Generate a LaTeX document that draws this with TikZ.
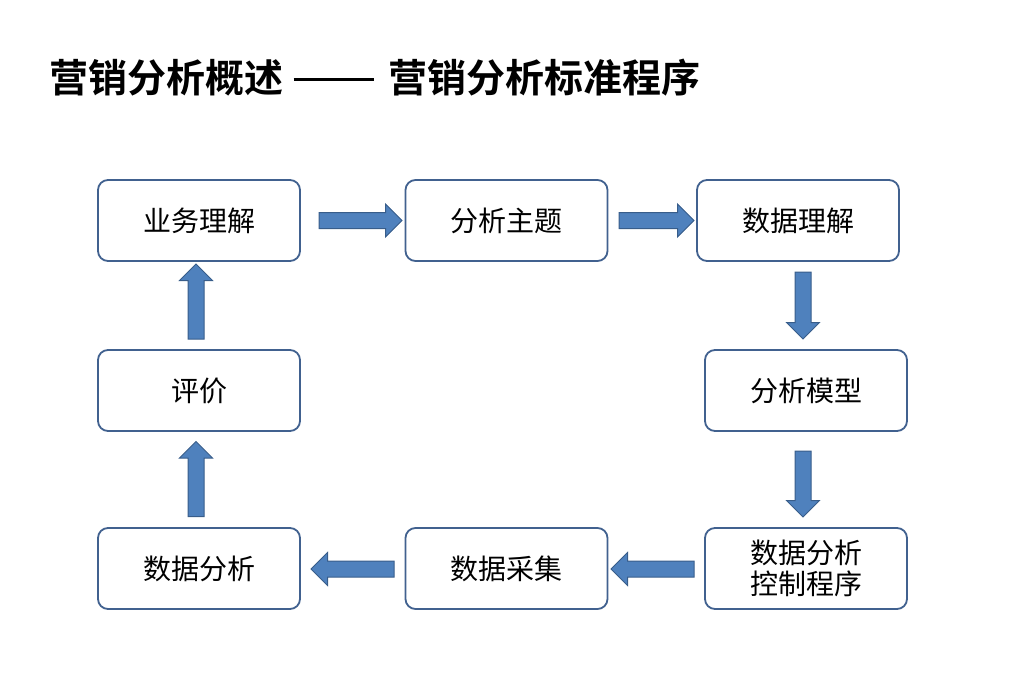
\documentclass[tikz,border=0pt]{standalone}
\usepackage{fontspec}
\setmainfont{Noto Sans CJK SC}
\newfontfamily\titlefont{Noto Sans CJK SC Bold}
\usetikzlibrary{shapes.arrows}
\definecolor{boxc}{HTML}{41618F}
\definecolor{arrf}{HTML}{4F81BD}
\definecolor{arrd}{HTML}{385D8A}
\begin{document}
\begin{tikzpicture}[x=1pt,y=-1pt,
 box/.style={draw=boxc,line width=1.8pt,rounded corners=10pt,minimum width=202pt,minimum height=81pt,font=\fontsize{28}{33}\selectfont,align=center,inner sep=0pt},
 barrow/.style={single arrow,fill=arrf,draw=arrd,line width=1pt,inner sep=7.5pt,minimum width=33pt,single arrow head extend=8.5pt,minimum height=#1,text width=0pt,text height=0pt,text depth=0pt}]
\useasboundingbox (0,0) rectangle (1020,696);
\node[anchor=west,font=\titlefont\fontsize{39}{44}\selectfont] (t) at (46,78) {营销分析概述\hspace{10pt}\rule[0.3em]{80pt}{3.2pt}\hspace{15pt}营销分析标准程序};
\node[box] (a) at (199,220.5) {业务理解};
\node[box] (b) at (506.5,220.5) {分析主题};
\node[box] (c) at (798,220.5) {数据理解};
\node[box] (d) at (806,390.5) {分析模型};
\node[box] (e) at (806,568.5) {数据分析\\[-2pt]控制程序};
\node[box] (f) at (506.5,568.5) {数据采集};
\node[box] (g) at (199,568.5) {数据分析};
\node[box] (h) at (199,390.5) {评价};
\node[barrow=83pt] (ab) at (356.5,220.5) {};
\node[barrow=75pt] (bc) at (652.5,220.5) {};
\node[barrow=67pt,rotate=-90] (cd) at (803,301.5) {};
\node[barrow=66pt,rotate=-90] (de) at (803,480) {};
\node[barrow=83pt,rotate=180] (ef) at (656.5,569) {};
\node[barrow=83pt,rotate=180] (fg) at (356.5,569) {};
\node[barrow=75pt,rotate=90] (gh) at (196,483) {};
\node[barrow=75pt,rotate=90] (ha) at (196,305.5) {};
\end{tikzpicture}
\end{document}
